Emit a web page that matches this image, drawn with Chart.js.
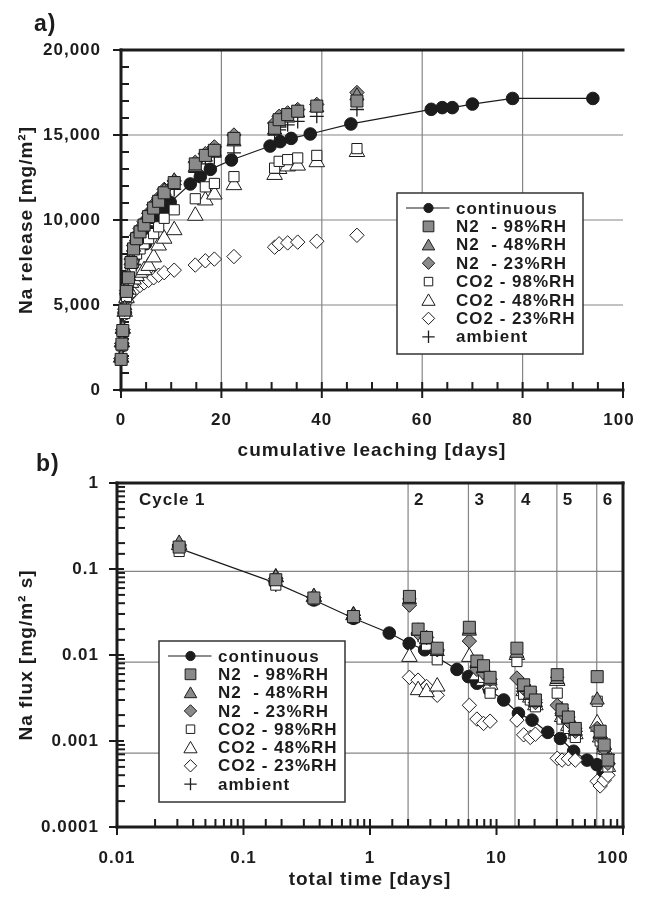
<!DOCTYPE html>
<html><head><meta charset="utf-8">
<script src="https://cdn.jsdelivr.net/npm/chart.js@4.4.1/dist/chart.umd.min.js"></script>
<style>
html,body{margin:0;padding:0;background:#fff;}
#wrap{position:relative;width:646px;height:899px;overflow:hidden;background:#fff;}
canvas{position:absolute;left:0;}
#ca{top:0;}
#cb{top:440px;}
.pl{position:absolute;font-family:"Liberation Sans",Arial,sans-serif;font-weight:bold;font-size:23px;line-height:23px;color:#1c1c1c;letter-spacing:1px;}
</style></head><body>
<div id="wrap">
<canvas id="ca" width="646" height="470"></canvas>
<canvas id="cb" width="646" height="459"></canvas>
<div class="pl" style="left:34px;top:12px;">a)</div>
<div class="pl" style="left:36px;top:452px;">b)</div>
</div>
<script>
// ---------------- Panel a data: cumulative leaching [days] vs Na release [mg/m2]
const contLeachDays = [0.03,0.18,0.36,0.74,1.4,2.0,2.7,4.9,6.0,7.5,8.5,9.8,13.8,15.8,17.8,22.0,29.7,31.7,33.9,37.7,45.8,61.8,64.0,66.0,70.0,78.0,94.0];
const contRelease   = [1800,2600,3400,4500,5600,6300,6900,8600,9300,10000,10490,11040,12120,12550,12980,13530,14350,14610,14800,15060,15650,16510,16610,16610,16820,17150,17150];
const cycLeachDays  = [0.03,0.18,0.36,0.74,1.1,1.5,2.0,2.5,3.1,3.8,4.6,5.5,6.5,7.5,8.6,10.6,14.8,16.8,18.6,22.5,30.6,31.5,33.2,35.2,39.0,47.0];
const relN2_98  = [1800,2700,3500,4700,5800,6600,7500,8300,8900,9300,9700,10200,10700,11100,11600,12200,13300,13800,14100,14800,15400,15900,16200,16400,16700,17000];
const relN2_48  = [1900,2800,3600,4800,5900,6700,7600,8400,9000,9400,9800,10300,10800,11200,11700,12300,13100,13700,14000,14600,15300,15700,16000,16300,16600,17300];
const relN2_23  = [1850,2750,3550,4750,5850,6650,7700,8500,9100,9500,9900,10400,10900,11300,11800,12300,13400,13900,14300,15000,15700,16100,16300,16500,16800,17500];
const relCO2_98 = [1800,2600,3400,4500,5500,6300,7000,7500,8000,8300,8600,8900,9200,9600,10100,10600,11250,11950,12150,12550,13050,13450,13550,13650,13800,14200];
const relCO2_48 = [1900,2800,3600,4600,5400,5900,6300,6500,6700,6900,7050,7300,7800,8500,8900,9400,10250,11150,11500,12050,12650,13000,13150,13200,13400,14000];
const relCO2_23 = [1850,2750,3550,4500,5200,5500,5700,5850,6000,6150,6300,6450,6600,6750,6900,7050,7350,7600,7700,7850,8400,8600,8650,8700,8750,9100];
const relAmb    = [1800,2700,3500,4600,5600,6400,7200,7900,8500,8900,9300,9800,10300,10700,11200,11800,12800,13300,13700,13950,15000,15300,15600,15800,16100,16500];

// ---------------- Panel b data: total time [days] vs Na flux [mg/m2 s]
const contTime = [0.031,0.178,0.36,0.74,1.42,2.04,2.7,4.87,6.0,7.0,8.8,11.4,14.9,19.1,25.4,32,40.7,52,62.3,70];
const contFlux = [0.174,0.069,0.0436,0.0267,0.018,0.0136,0.0115,0.0068,0.0056,0.0047,0.0039,0.003,0.0021,0.00175,0.00126,0.00107,0.00076,0.0006,0.00053,0.00042];
const cycTime  = [0.031,0.18,0.36,0.74,2.05,2.4,2.8,3.4,6.1,7.0,7.9,8.9,14.5,16.4,18.5,20.3,30.2,33,37,42,62.5,66,71,76];
const fluxN2_98  = [0.18,0.075,0.046,0.028,0.048,0.02,0.016,0.012,0.021,0.0085,0.0075,0.0055,0.012,0.0045,0.0037,0.003,0.0059,0.0023,0.0019,0.0014,0.0056,0.0013,0.0009,0.0006];
const fluxN2_48  = [0.2,0.08,0.048,0.029,0.044,0.019,0.015,0.011,0.019,0.008,0.007,0.005,0.0105,0.0042,0.0034,0.0028,0.0052,0.0022,0.0018,0.0013,0.003,0.0012,0.0009,0.0006];
const fluxN2_23  = [0.19,0.078,0.047,0.029,0.038,0.018,0.016,0.0115,0.0145,0.0068,0.0062,0.0052,0.0054,0.0041,0.0035,0.0028,0.0026,0.0021,0.0017,0.0013,0.0014,0.0011,0.0008,0.00055];
const fluxCO2_98 = [0.16,0.065,0.044,0.027,0.044,0.0195,0.013,0.0088,0.02,0.0075,0.0055,0.0036,0.0084,0.0035,0.003,0.0025,0.0036,0.0018,0.0014,0.0011,0.0029,0.001,0.0008,0.0005];
const fluxCO2_48 = [0.19,0.08,0.047,0.029,0.0095,0.0039,0.0037,0.0043,0.0095,0.0058,0.005,0.0045,0.01,0.0038,0.0032,0.0026,0.005,0.0019,0.0015,0.0012,0.0016,0.0011,0.0008,0.0005];
const fluxCO2_23 = [0.19,0.078,0.047,0.029,0.0055,0.0051,0.0043,0.0034,0.0026,0.0018,0.0016,0.0017,0.00175,0.00118,0.0011,0.0012,0.00063,0.0006,0.00062,0.0006,0.00034,0.0003,0.00035,0.0004];
const fluxAmb    = [0.17,0.065,0.045,0.027,0.045,0.017,0.014,0.011,0.018,0.0075,0.0065,0.0048,0.0095,0.0045,0.0038,0.003,0.0055,0.0024,0.0019,0.0014,0.0013,0.001,0.0008,0.0007];

const cycleStarts = [0.01, 2, 6, 14, 30, 62];
const cycleLabels = ['Cycle 1','2','3','4','5','6'];

const seriesLabels = ['continuous','N2  - 98%RH','N2  - 48%RH','N2  - 23%RH','CO2 - 98%RH','CO2 - 48%RH','CO2 - 23%RH','ambient'];
const xTicksA = [0,20,40,60,80,100];
const yTicksA = [0,5000,10000,15000,20000];
const gridXA = [20,40,60,80];
const gridYA = [5000,10000,15000];
const gridYB = [0.1,0.01,0.001];
// the original's horizontal grid in panel b sits on a slightly different log scale than its tick marks
const gridScaleB = {min:0.0001535, max:0.9387};

// ---------------- styles
const INK = '#1c1c1c', GREY = '#8a8a8a', FONT = '"Liberation Sans", Arial, sans-serif';
Chart.defaults.font.family = FONT;
Chart.defaults.font.weight = 'bold';
Chart.defaults.color = INK;

const STY = [
  {pointStyle:'circle',  pointRadius:6.3, backgroundColor:INK,  borderColor:INK, pointBorderWidth:1, showLine:true, borderWidth:1.2, lr:4.6, line:true, order:1},
  {pointStyle:'rect',    pointRadius:8.5, backgroundColor:GREY, borderColor:INK, pointBorderWidth:1, lr:7.6, order:0},
  {pointStyle:'triangle',pointRadius:8.2, backgroundColor:GREY, borderColor:INK, pointBorderWidth:1, lr:7.2, order:0},
  {pointStyle:'rectRot', pointRadius:7.2, backgroundColor:GREY, borderColor:INK, pointBorderWidth:1, lr:6.2, order:0},
  {pointStyle:'rect',    pointRadius:7.2, backgroundColor:'#fff', borderColor:INK, pointBorderWidth:1, lr:6.0, order:0},
  {pointStyle:'triangle',pointRadius:9,   backgroundColor:'#fff', borderColor:INK, pointBorderWidth:1, lr:7.6, order:0},
  {pointStyle:'rectRot', pointRadius:7.2, backgroundColor:'#fff', borderColor:INK, pointBorderWidth:1, lr:6.2, order:0},
  {pointStyle:'cross',   pointRadius:7,   backgroundColor:INK, borderColor:INK, pointBorderWidth:1.3, lr:6.2, order:0}
];

function mk(i, xs, ys){
  return Object.assign({label: seriesLabels[i], data: xs.map((x,k)=>({x:x, y:ys[k]})), clip:false, showLine:false}, STY[i]);
}

function sym(ctx, style, r, x, y){
  ctx.beginPath();
  if (style==='circle') ctx.arc(x,y,r,0,Math.PI*2);
  else if (style==='rect'){ const s=r*Math.SQRT1_2; ctx.rect(x-s,y-s,2*s,2*s); }
  else if (style==='rectRot'){ ctx.moveTo(x-r,y); ctx.lineTo(x,y-r); ctx.lineTo(x+r,y); ctx.lineTo(x,y+r); ctx.closePath(); }
  else if (style==='triangle'){ let a=0; ctx.moveTo(x+Math.sin(a)*r,y-Math.cos(a)*r); a+=2*Math.PI/3; ctx.lineTo(x+Math.sin(a)*r,y-Math.cos(a)*r); a+=2*Math.PI/3; ctx.lineTo(x+Math.sin(a)*r,y-Math.cos(a)*r); ctx.closePath(); }
  else if (style==='cross'){ ctx.moveTo(x,y-r); ctx.lineTo(x,y+r); ctx.moveTo(x-r,y); ctx.lineTo(x+r,y); }
  if (style!=='cross') ctx.fill();
  ctx.stroke();
}

const framePlugin = {
  id:'frame',
  beforeDraw(chart){ chart.ctx.letterSpacing = '1px'; },
  beforeDatasetsDraw(chart, args, o){
    const ctx = chart.ctx, a = chart.chartArea, xs = chart.scales.x, ys = chart.scales.y;
    const gs = chart.scales.yg || ys;
    const L=(x1,y1,x2,y2)=>{ctx.beginPath();ctx.moveTo(x1,y1);ctx.lineTo(x2,y2);ctx.stroke();};
    ctx.save();
    ctx.strokeStyle = '#858585'; ctx.lineWidth = 1.2;
    (o.gridX||[]).forEach(v=>{const p=xs.getPixelForValue(v); L(p,a.top,p,a.bottom);});
    (o.gridY||[]).forEach(v=>{const p=gs.getPixelForValue(v); L(a.left,p,a.right,p);});
    ctx.strokeStyle = INK; ctx.lineWidth = 2;
    ys.ticks.forEach(t=>{const p=ys.getPixelForValue(t.value); if(p<a.top-1||p>a.bottom+1) return;
      if (o.majorY(t.value)) L(a.left-8,p,a.left+7,p); else L(a.left,p,a.left+8,p);});
    xs.ticks.forEach(t=>{const p=xs.getPixelForValue(t.value); if(p<a.left-1||p>a.right+1) return;
      if (o.majorX(t.value)) L(p,a.bottom+8,p,a.bottom-8); else L(p,a.bottom,p,a.bottom-8);});
    ctx.lineWidth = 3; ctx.lineCap = 'square';
    L(a.left,a.top,a.left,a.bottom); L(a.left,a.bottom,a.right,a.bottom); L(a.left,a.top,a.right,a.top);
    if (o.right) L(a.right,a.top,a.right,a.bottom);
    ctx.restore();
  },
  afterDatasetsDraw(chart, args, o){
    const ctx = chart.ctx, a = chart.chartArea, xs = chart.scales.x;
    ctx.save();
    ctx.letterSpacing = '1px'; ctx.fillStyle = INK;
    // last x tick label, kept inside the frame as in the original
    ctx.font = 'bold 17px ' + FONT; ctx.textBaseline = 'middle'; ctx.textAlign = 'center';
    const lp = xs.getPixelForValue(xs.max) + o.endShift;
    ctx.fillText(o.endLabel, lp, xs.top + xs.options.ticks.padding + 10.2);
    if (o.cycles){
      ctx.textAlign = 'left';
      o.cycles.starts.forEach((v,i)=>{ const p = xs.getPixelForValue(v) + (i===0 ? 22 : 6); ctx.fillText(o.cycles.labels[i], p, a.top + 17); });
    }
    ctx.restore();
  },
  afterDraw(chart, args, o){
    const g = o.legend; if (!g) return;
    const ctx = chart.ctx;
    ctx.save();
    ctx.fillStyle = '#fff'; ctx.fillRect(g.x, g.y, g.w, g.h);
    ctx.strokeStyle = '#333'; ctx.lineWidth = 1.5; ctx.strokeRect(g.x, g.y, g.w, g.h);
    chart.data.datasets.forEach((d,i)=>{
      const cy = g.y + g.first + i*g.row, cx = g.x + 31.5;
      ctx.strokeStyle = INK; ctx.lineWidth = 1.2;
      if (d.line){ ctx.beginPath(); ctx.moveTo(g.x+9, cy); ctx.lineTo(g.x+52.5, cy); ctx.stroke(); }
      ctx.fillStyle = d.backgroundColor; ctx.lineWidth = d.pointBorderWidth;
      sym(ctx, d.pointStyle, d.lr, cx, cy + (d.pointStyle==='triangle' ? 1.5 : 0));
      ctx.fillStyle = INK; ctx.font = 'bold 17px ' + FONT; ctx.letterSpacing = '1px';
      ctx.textBaseline = 'middle'; ctx.textAlign = 'left';
      ctx.fillText(d.label, g.x + 59, cy + 1);
    });
    ctx.restore();
  }
};

const isDecade = v => { const l = Math.log10(v); return Math.abs(l - Math.round(l)) < 1e-6; };
const fmtDec = v => v.toFixed(Math.max(0, -Math.round(Math.log10(v))));
const tickFont = {size:17, weight:'bold'};
const titleFont = {size:19, weight:'bold'};

// ---------------- Chart a
new Chart(document.getElementById('ca'), {
  type:'scatter',
  data:{datasets:[
    mk(0, contLeachDays, contRelease),
    mk(1, cycLeachDays, relN2_98),
    mk(2, cycLeachDays, relN2_48),
    mk(3, cycLeachDays, relN2_23),
    mk(4, cycLeachDays, relCO2_98),
    mk(5, cycLeachDays, relCO2_48),
    mk(6, cycLeachDays, relCO2_23),
    mk(7, cycLeachDays, relAmb)
  ]},
  options:{
    responsive:false, animation:false, events:[],
    layout:{padding:{left:0,right:23,top:50,bottom:0}},
    plugins:{legend:{display:false}, tooltip:{enabled:false},
      frame:{gridX:gridXA, gridY:gridYA, right:false,
             majorX:v=>xTicksA.includes(v), majorY:v=>yTicksA.includes(v),
             endLabel:String(xTicksA[xTicksA.length-1]), endShift:-4,
             legend:{x:397, y:193, w:186, h:161, first:15, row:18.4}}},
    scales:{
      x:{type:'linear', min:0, max:100, afterFit(s){s.height=80;},
         grid:{display:false, drawTicks:false}, border:{display:false},
         ticks:{stepSize:5, maxTicksLimit:1000, autoSkip:false, maxRotation:0, padding:20, color:INK, font:tickFont,
                callback:v=> (xTicksA.includes(v) && v!==xTicksA[xTicksA.length-1]) ? String(v) : ''},
         title:{display:true, text:'cumulative leaching [days]', color:INK, font:titleFont, padding:{top:0,bottom:8}}},
      y:{type:'linear', min:0, max:20000, afterFit(s){s.width=121;},
         grid:{display:false, drawTicks:false}, border:{display:false},
         ticks:{stepSize:1000, maxTicksLimit:1000, autoSkip:false, padding:20, color:INK, font:tickFont,
                callback:v=> yTicksA.includes(v) ? v.toLocaleString('en-US') : ''},
         title:{display:true, text:'Na release [mg/m²]', color:INK, font:titleFont, padding:{top:15,bottom:0}}}
    }
  },
  plugins:[framePlugin]
});

// ---------------- Chart b
new Chart(document.getElementById('cb'), {
  type:'scatter',
  data:{datasets:[
    mk(0, contTime, contFlux),
    mk(1, cycTime, fluxN2_98),
    mk(2, cycTime, fluxN2_48),
    mk(3, cycTime, fluxN2_23),
    mk(4, cycTime, fluxCO2_98),
    mk(5, cycTime, fluxCO2_48),
    mk(6, cycTime, fluxCO2_23),
    mk(7, cycTime, fluxAmb)
  ]},
  options:{
    responsive:false, animation:false, events:[],
    layout:{padding:{left:0,right:23,top:43,bottom:0}},
    plugins:{legend:{display:false}, tooltip:{enabled:false},
      frame:{gridX:cycleStarts.slice(1), gridY:gridYB, right:true,
             majorX:isDecade, majorY:isDecade,
             endLabel:'100', endShift:-10,
             cycles:{starts:cycleStarts, labels:cycleLabels},
             legend:{x:159, y:201, w:186, h:161, first:15, row:18.3}}},
    scales:{
      x:{type:'logarithmic', min:0.01, max:100, afterFit(s){s.height=72;},
         grid:{display:false, drawTicks:false}, border:{display:false},
         ticks:{autoSkip:false, maxRotation:0, padding:21, color:INK, font:tickFont,
                callback:v=> (isDecade(v) && v < 99) ? fmtDec(v) : ''},
         title:{display:true, text:'total time [days]', color:INK, font:titleFont, padding:{top:0,bottom:8}}},
      y:{type:'logarithmic', min:0.0001, max:1, afterFit(s){s.width=117;},
         grid:{display:false, drawTicks:false}, border:{display:false},
         ticks:{autoSkip:false, padding:18, color:INK, font:tickFont,
                callback:v=> isDecade(v) ? fmtDec(v) : ''},
         title:{display:true, text:'Na flux [mg/m² s]', color:INK, font:titleFont, padding:{top:15,bottom:0}}},
      yg:{type:'logarithmic', position:'right', display:false, min:gridScaleB.min, max:gridScaleB.max}
    }
  },
  plugins:[framePlugin]
});
</script>
</body></html>
